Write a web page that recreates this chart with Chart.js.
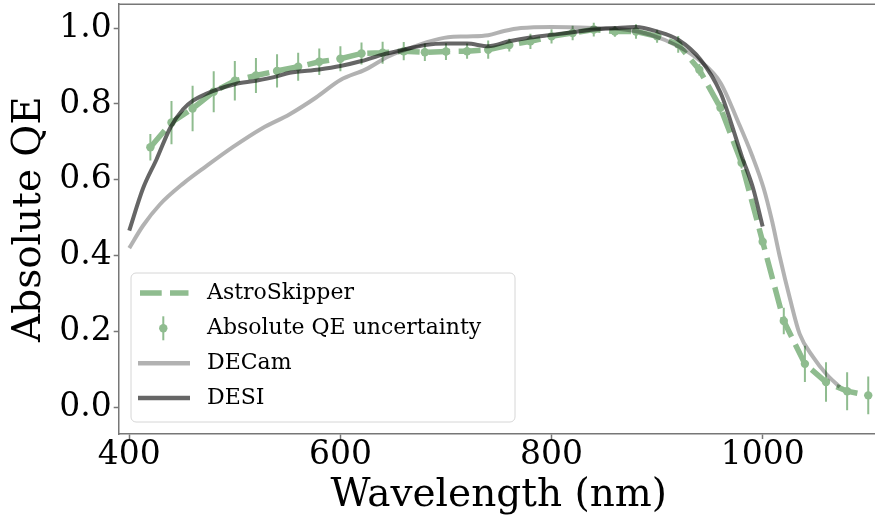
<!DOCTYPE html>
<html><head><meta charset="utf-8">
<script src="https://cdn.jsdelivr.net/npm/chart.js@4.4.1/dist/chart.umd.min.js"></script>
<style>html,body{margin:0;padding:0;background:#fff;overflow:hidden}#wrap{width:883px;height:523px}</style>
</head><body><div id="wrap"><canvas id="c" width="883" height="523"></canvas></div>
<script>
// ---- data ----
const astroWl  = [420,440,460,480,500,520,540,560,580,600,620,640,660,680,700,720,740,760,780,800,820,840,860,880,900,920,940,960,980,1000,1020,1040,1060,1080,1100];
const astroQE  = [0.686,0.751,0.788,0.832,0.861,0.875,0.887,0.898,0.911,0.919,0.933,0.935,0.939,0.936,0.938,0.939,0.943,0.955,0.965,0.978,0.987,0.996,0.991,0.991,0.978,0.957,0.890,0.790,0.645,0.437,0.228,0.115,0.067,0.043,0.032];
const astroErr = [0.035,0.057,0.060,0.054,0.052,0.046,0.044,0.037,0.035,0.033,0.029,0.029,0.024,0.023,0.022,0.020,0.024,0.017,0.020,0.019,0.019,0.018,0.014,0.019,0.017,0.022,0.015,0.015,0.015,0.012,0.035,0.048,0.052,0.050,0.050];
const decamWl  = [400,413,429,451,473,498,526,552,577,600,624,646,662,682,702,720,740,755,771,800,841,869,894,920,941,960,977,990,1001,1009,1016,1026,1035,1048,1060,1073];
const decamQE  = [0.420,0.479,0.535,0.590,0.636,0.686,0.736,0.773,0.817,0.863,0.891,0.926,0.943,0.963,0.976,0.978,0.981,0.992,1.000,1.003,1.000,0.996,0.982,0.952,0.913,0.856,0.751,0.664,0.577,0.490,0.400,0.285,0.194,0.132,0.089,0.054];
const desiWl   = [400,413,426,439,451,460,479,500,520,539,552,580,600,620,640,660,680,700,720,740,760,780,800,820,840,860,880,900,920,941,960,970,980,991,1000];
const desiQE   = [0.466,0.577,0.655,0.738,0.786,0.808,0.834,0.852,0.861,0.872,0.882,0.891,0.900,0.913,0.930,0.943,0.955,0.959,0.959,0.952,0.965,0.975,0.982,0.989,0.996,1.000,1.003,0.991,0.969,0.917,0.830,0.751,0.664,0.577,0.477];
const xTicks = [400,600,800,1000];
const yTicks = [0.0,0.2,0.4,0.6,0.8,1.0];
const legendLabels = ['AstroSkipper','Absolute QE uncertainty','DECam','DESI'];
const xTitle = 'Wavelength (nm)';
const yTitle = 'Absolute QE';

// ---- styles ----
const FONT = "'DejaVu Serif', serif";
const GREEN = 'rgb(143,188,143)';
const DECAM = 'rgba(0,0,0,0.3)';
const DESI = 'rgba(0,0,0,0.6)';
const SPINE = '#777';

const pts = (xs, ys) => xs.map((x, i) => ({x: x, y: ys[i]}));

const errorBars = {
  id: 'errorBars',
  beforeDatasetsDraw(chart) {
    const {ctx, scales: {x, y}, chartArea} = chart;
    ctx.save();
    ctx.beginPath();
    ctx.rect(chartArea.left, chartArea.top, chartArea.right - chartArea.left, chartArea.bottom - chartArea.top);
    ctx.clip();
    ctx.strokeStyle = GREEN;
    ctx.lineWidth = 2;
    astroWl.forEach((w, i) => {
      const px = x.getPixelForValue(w);
      ctx.beginPath();
      ctx.moveTo(px, y.getPixelForValue(astroQE[i] - astroErr[i]));
      ctx.lineTo(px, y.getPixelForValue(astroQE[i] + astroErr[i]));
      ctx.stroke();
    });
    ctx.restore();
  }
};

const frame = {
  id: 'frame',
  afterDraw(chart) {
    const {ctx, chartArea: a} = chart;
    ctx.save();
    ctx.strokeStyle = SPINE;
    ctx.lineWidth = 1.5;
    ctx.beginPath();
    ctx.moveTo(a.left, a.top); ctx.lineTo(a.right, a.top);
    ctx.moveTo(a.right, a.top); ctx.lineTo(a.right, a.bottom);
    ctx.stroke();
    ctx.restore();
  }
};

const legendBox = {
  id: 'legendBox',
  afterDraw(chart) {
    const ctx = chart.ctx;
    const bx = 131, by = 273, bw = 384, bh = 149, r = 5;
    ctx.save();
    ctx.beginPath();
    ctx.moveTo(bx + r, by);
    ctx.arcTo(bx + bw, by, bx + bw, by + bh, r);
    ctx.arcTo(bx + bw, by + bh, bx, by + bh, r);
    ctx.arcTo(bx, by + bh, bx, by, r);
    ctx.arcTo(bx, by, bx + bw, by, r);
    ctx.closePath();
    ctx.fillStyle = 'rgba(255,255,255,0.8)';
    ctx.fill();
    ctx.strokeStyle = '#d6d6d6';
    ctx.lineWidth = 1;
    ctx.stroke();

    const rows = [293, 328.3, 363.3, 398];
    ctx.strokeStyle = GREEN; ctx.lineWidth = 5.5; ctx.setLineDash([21.7, 8.3]);
    ctx.beginPath(); ctx.moveTo(140, rows[0]); ctx.lineTo(188.5, rows[0]); ctx.stroke();
    ctx.setLineDash([]);
    ctx.lineWidth = 2;
    ctx.beginPath(); ctx.moveTo(163.3, rows[1] - 12); ctx.lineTo(163.3, rows[1] + 12); ctx.stroke();
    ctx.fillStyle = GREEN;
    ctx.beginPath(); ctx.arc(163.3, rows[1], 4.2, 0, Math.PI * 2); ctx.fill();
    ctx.lineWidth = 4.5;
    ctx.strokeStyle = DECAM;
    ctx.beginPath(); ctx.moveTo(138, rows[2]); ctx.lineTo(190, rows[2]); ctx.stroke();
    ctx.strokeStyle = DESI;
    ctx.beginPath(); ctx.moveTo(138, rows[3]); ctx.lineTo(190, rows[3]); ctx.stroke();

    ctx.fillStyle = '#000';
    ctx.font = '22px ' + FONT;
    ctx.textAlign = 'left';
    ctx.textBaseline = 'middle';
    legendLabels.forEach((t, i) => ctx.fillText(t, 207, rows[i]));
    ctx.restore();
  }
};

new Chart(document.getElementById('c'), {
  type: 'scatter',
  data: {
    datasets: [
      {
        label: legendLabels[3], data: pts(desiWl, desiQE), showLine: true,
        borderColor: DESI, borderWidth: 4, pointRadius: 0, cubicInterpolationMode: 'monotone', order: 1,
        borderJoinStyle: 'round'
      },
      {
        label: legendLabels[2], data: pts(decamWl, decamQE), showLine: true,
        borderColor: DECAM, borderWidth: 4, pointRadius: 0, cubicInterpolationMode: 'monotone', order: 2,
        borderJoinStyle: 'round'
      },
      {
        label: legendLabels[1], data: pts(astroWl, astroQE), showLine: false,
        pointRadius: 4.2, pointBackgroundColor: GREEN, pointBorderWidth: 0,
        pointBorderColor: GREEN, order: 3
      },
      {
        label: legendLabels[0], data: pts(astroWl, astroQE), showLine: true,
        borderColor: GREEN, borderWidth: 5.5, borderDash: [22, 8.5], pointRadius: 0,
        tension: 0, order: 4
      }
    ]
  },
  options: {
    responsive: false,
    animation: false,
    devicePixelRatio: 1,
    layout: {padding: {top: 1, right: 0, bottom: 0, left: 0}},
    plugins: {legend: {display: false}, tooltip: {enabled: false}},
    scales: {
      x: {
        type: 'linear', min: 390, max: 1110,
        afterBuildTicks: s => { s.ticks = xTicks.map(v => ({value: v})); },
        afterFit: s => { s.height = 89; s.paddingLeft = 0; s.paddingRight = 0; },
        ticks: {font: {family: FONT, size: 33, lineHeight: 1}, color: '#000', padding: 0,
                maxRotation: 0, autoSkip: false, callback: v => String(v)},
        grid: {drawOnChartArea: false, drawTicks: true, tickLength: 5, tickColor: SPINE, tickWidth: 1.5},
        border: {color: SPINE, width: 1.5},
        title: {display: true, text: xTitle, color: '#000',
                font: {family: FONT, size: 39, lineHeight: 1.2}, padding: {top: 0, bottom: 3.6}}
      },
      y: {
        type: 'linear', min: -0.0698, max: 1.0628,
        afterBuildTicks: s => { s.ticks = yTicks.map(v => ({value: v})); },
        afterFit: s => { s.width = 118.7; s.paddingTop = 0; s.paddingBottom = 0; },
        ticks: {font: {family: FONT, size: 33, lineHeight: 1}, color: '#000', padding: 2,
                autoSkip: false, callback: v => Number(v).toFixed(1)},
        grid: {drawOnChartArea: false, drawTicks: true, tickLength: 5, tickColor: SPINE, tickWidth: 1.5},
        border: {color: SPINE, width: 1.5},
        title: {display: true, text: yTitle, color: '#000',
                font: {family: FONT, size: 39, lineHeight: 1.2}, padding: {top: 6.1, bottom: 0}}
      }
    }
  },
  plugins: [errorBars, frame, legendBox]
});
</script>
</body></html>
